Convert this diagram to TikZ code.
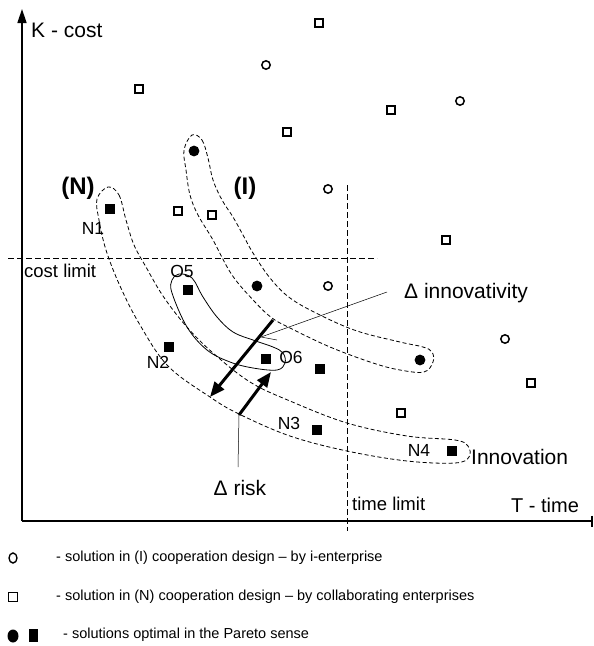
\documentclass[tikz,border=0pt]{standalone}
\usepackage{fontspec}
\setmainfont{Liberation Sans}
\usetikzlibrary{arrows.meta,shapes.geometric}
\tikzset{
  osq/.style={draw, rectangle, line width=1.6pt, minimum size=8pt, inner sep=0pt},
  ocirc/.style={draw, circle, line width=1.5pt, minimum size=8.4pt, inner sep=0pt},
  fsq/.style={fill, rectangle, minimum size=10.3pt, inner sep=0pt},
  fcirc/.style={fill, circle, minimum size=10.8pt, inner sep=0pt},
  lbl/.style={font=\fontsize{21}{23}\selectfont, inner sep=0pt},
  limlbl/.style={font=\fontsize{18.5}{20}\selectfont, inner sep=0pt},
  ptlbl/.style={font=\fontsize{17.5}{19}\selectfont, inner sep=0pt},
  grp/.style={font=\bfseries\fontsize{24}{26}\selectfont, inner sep=0pt},
  leg/.style={font=\fontsize{14.5}{16}\selectfont, inner sep=0pt, anchor=west},
  axis/.style={line width=1.6pt},
  limit/.style={line width=0.8pt, dash pattern=on 6pt off 3pt},
  region/.style={line width=0.8pt, dash pattern=on 4pt off 2.5pt},
  thickarrow/.style={line width=3pt, -{Triangle[length=15pt,width=12pt]}},
  pointer/.style={line width=0.5pt},
}
\begin{document}
\begin{tikzpicture}[x=1pt,y=-1pt]
\useasboundingbox (0,0) rectangle (594,646);
% axes
\coordinate (origin) at (22,521);
\coordinate (ytop) at (22,9);
\coordinate (xend) at (593,521);
\draw[axis, -{Triangle[length=14pt,width=9pt]}] (origin) -- (ytop);
\draw[axis, -{Bar[width=11pt]}] (origin) -- (xend);
\node[lbl, anchor=west] (klab) at (31,30) {K - cost};
\node[lbl, font=\fontsize{20}{22}\selectfont, anchor=west] (tlab) at (511,505) {T - time};
% limits
\coordinate (cl1) at (8,258);
\coordinate (cl2) at (377,258);
\coordinate (tl1) at (347,185);
\coordinate (tl2) at (347,531);
\draw[limit] (cl1) -- (cl2);
\draw[limit] (tl1) -- (tl2);
\node[limlbl, anchor=west] (costlim) at (24,271) {cost limit};
\node[limlbl, anchor=west] (timelim) at (352,504) {time limit};
% regions
\draw[region] plot[smooth cycle, tension=0.6] coordinates {
 (108,187) (119,195) (126,220) (134,245) (146,267) (163,296) (186,326) (213,353)
 (250,382) (290,401) (347,423) (407,436) (455,440) (468,446) (469,457) (455,463)
 (407,461) (347,451) (290,436) (239,414) (210,397) (168,366) (140,325) (120,286)
 (106,250) (99,220) (97,199)};
\draw[region] plot[smooth cycle, tension=0.6] coordinates {
 (192,135) (202,140) (208,158) (213,180) (222,200) (233,217) (243,235) (253,253)
 (270,278) (290,298) (320,315) (357,331) (400,342) (423,347) (432,352) (433,362)
 (424,372) (400,370) (373,363) (330,347) (290,328) (272,318) (255,302) (232,275)
 (213,240) (198,215) (190,195) (186,170) (184,150)};
\draw[line width=0.8pt] plot[smooth cycle, tension=0.6] coordinates {
 (179,274) (192,278) (203,297) (217,317) (233,332) (253,340) (273,347) (283,353)
 (285,363) (277,370) (253,368) (230,362) (207,350) (187,327) (172,293) (172,280)};
\node[grp] (Nlab) at (78,188) {(N)};
\node[grp] (Ilab) at (245,188) {(I)};
% open squares
\node[osq] (s1) at (319,23) {};
\node[osq] (s2) at (139,89) {};
\node[osq] (s3) at (391,110) {};
\node[osq] (s4) at (287,132) {};
\node[osq] (s5) at (178,211) {};
\node[osq] (s6) at (212,215) {};
\node[osq] (s7) at (446,240) {};
\node[osq] (s8) at (531,383) {};
\node[osq] (s9) at (401,413) {};
% open circles
\node[ocirc] (c1) at (266,65) {};
\node[ocirc] (c2) at (460,101) {};
\node[ocirc] (c3) at (328,189) {};
\node[ocirc] (c4) at (328,286) {};
\node[ocirc] (c5) at (505,339) {};
% filled circles
\node[fcirc] (f1) at (194,151) {};
\node[fcirc] (f2) at (257,286) {};
\node[fcirc] (f3) at (420,360) {};
% filled squares
\node[fsq] (N1) at (110,209) {};
\node[fsq] (O5) at (188,290) {};
\node[fsq] (N2) at (169,347) {};
\node[fsq] (O6) at (266,359) {};
\node[fsq] (q7) at (320,369) {};
\node[fsq] (N3) at (317,430) {};
\node[fsq] (N4) at (452,451) {};
% point labels
\node[ptlbl] (N1l) at (93,228) {N1};
\node[ptlbl] (N2l) at (158,362) {N2};
\node[ptlbl] (N3l) at (289,423) {N3};
\node[ptlbl] (N4l) at (419,450) {N4};
\node[ptlbl] (O5l) at (182,271) {O5};
\node[ptlbl] (O6l) at (291,357) {O6};
% arrows
\coordinate (ia) at (273,320);
\coordinate (ib) at (210,397);
\coordinate (ra) at (239,415);
\coordinate (rb) at (271,372);
\draw[thickarrow] (ia) -- (ib);
\draw[thickarrow] (ra) -- (rb);
\node[lbl, anchor=west] (dinn) at (404,293) {Δ innovativity};
\node[lbl] (drisk) at (240,488) {Δ risk};
\node[lbl, anchor=west] (innov) at (471,457) {Innovation};
\coordinate (p1) at (387,292);
\coordinate (p2) at (261,337);
\coordinate (p3) at (277,340);
\draw[pointer] (p1) -- (p2) -- (p3);
\coordinate (r1) at (238,467);
\draw[pointer] (r1) -- (ra);
% legend
\node[draw, ellipse, line width=1.4pt, minimum width=8pt, minimum height=10pt, inner sep=0pt] (lg1) at (13,558) {};
\node[leg] (lt1) at (56,558) {- solution in (I) cooperation design – by i-enterprise};
\node[draw, rectangle, line width=1.4pt, minimum width=9pt, minimum height=9.5pt, inner sep=0pt] (lg2) at (13,597) {};
\node[leg] (lt2) at (56,597) {- solution in (N) cooperation design – by collaborating enterprises};
\node[fill, ellipse, minimum width=11pt, minimum height=13pt, inner sep=0pt] (lg3) at (13,636) {};
\node[fill, rectangle, minimum width=9pt, minimum height=13pt, inner sep=0pt] (lg4) at (33,635) {};
\node[leg] (lt3) at (63,635) {- solutions optimal in the Pareto sense};
\end{tikzpicture}
\end{document}
